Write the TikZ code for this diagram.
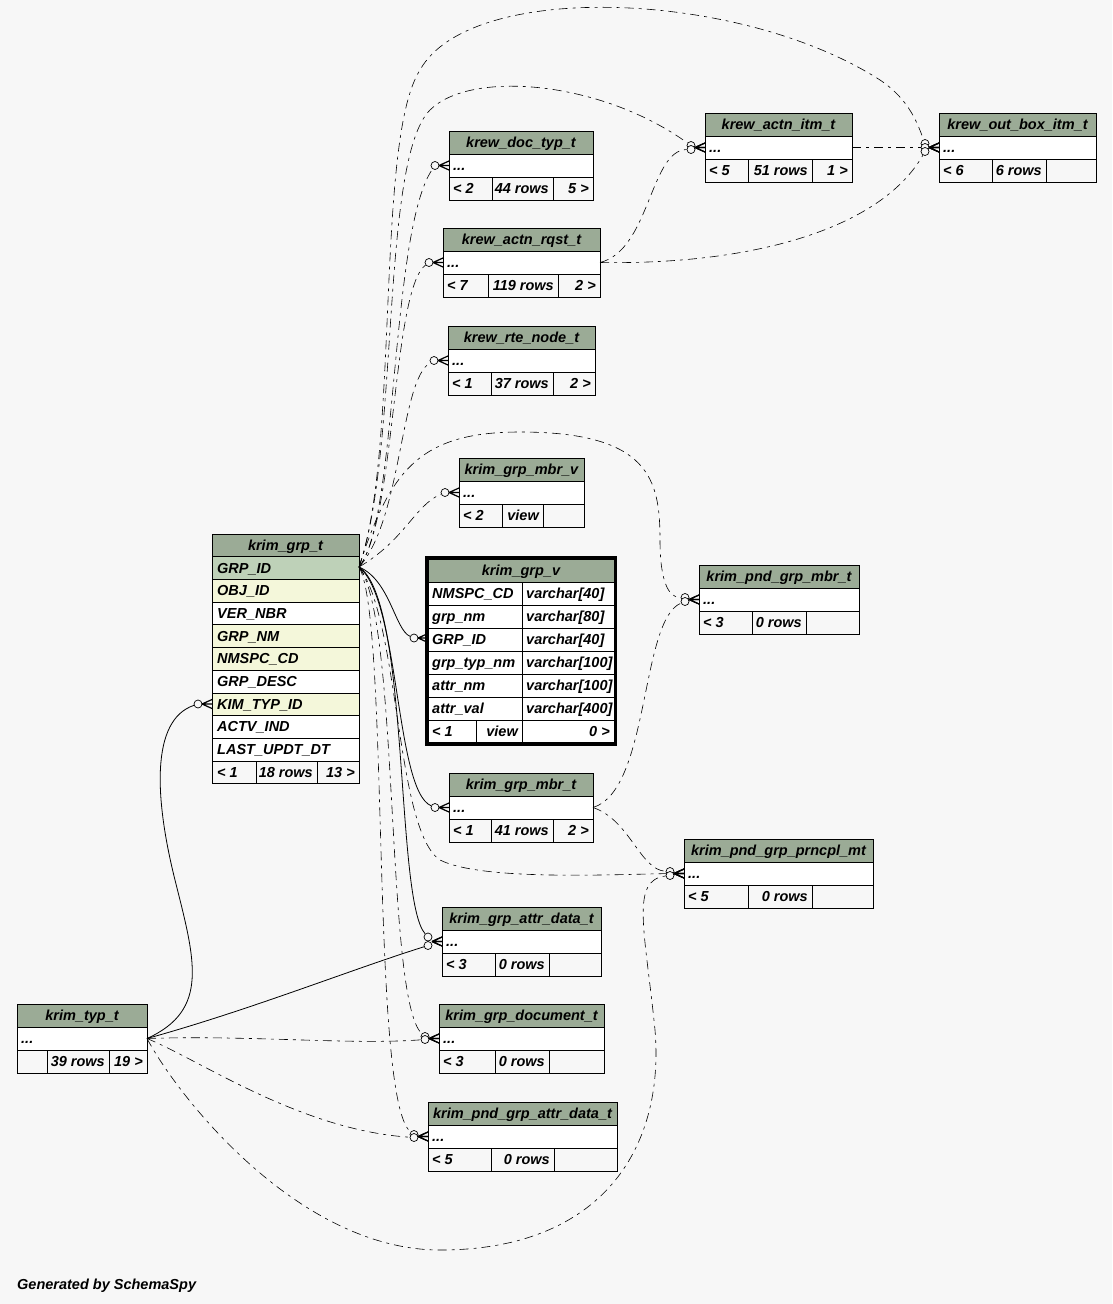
\documentclass[tikz,border=0pt]{standalone}
\usepackage{fontspec}
\setmainfont{Liberation Sans}
\definecolor{bgc}{HTML}{F7F7F7}
\definecolor{hdrc}{HTML}{9BAB96}
\definecolor{pkc}{HTML}{BED1B8}
\definecolor{fkc}{HTML}{F4F7DA}
\tikzset{
  tline/.style={line width=0.8pt},
  lt/.style={anchor=base west, inner sep=0pt},
  rt/.style={anchor=base east, inner sep=0pt},
  ct/.style={anchor=base, inner sep=0pt},
  circ/.style={circle, draw, fill=bgc, inner sep=0pt, minimum size=8pt, line width=0.7pt},
  foot/.style={line width=1.2pt},
  sol/.style={line width=0.8pt},
  dsh/.style={line width=0.6pt, dash pattern=on 9pt off 5pt on 3pt off 5pt},
}
\newcommand\tbl[9]{\def\tN{#1}\def\tL{#2}\def\tR{#3}\def\tT{#4}\def\tA{#5}\def\tB{#6}\def\tTitle{#7}\def\tFa{#8}\def\tFb{#9}\tblfin}
\newcommand\tblfin[1]{%
  \fill[hdrc] (\tL,\tT) rectangle (\tR,\tT+23);
  \fill[white] (\tL,\tT+23) rectangle (\tR,\tT+46);
  \draw[tline] (\tL,\tT) rectangle (\tR,\tT+69);
  \draw[tline] (\tL,\tT+23) -- (\tR,\tT+23) (\tL,\tT+46) -- (\tR,\tT+46)
     (\tA,\tT+46) -- (\tA,\tT+69) (\tB,\tT+46) -- (\tB,\tT+69);
  \node[ct] (\tN-title) at ({(\tL+\tR)/2},\tT+16.3) {\tTitle};
  \node[lt] (\tN-row) at (\tL+4,\tT+39.3) {...};
  \node[lt] (\tN-fa) at (\tL+4,\tT+62.3) {\tFa};
  \node[rt] (\tN-fb) at (\tB-4,\tT+62.3) {\tFb};
  \node[rt] (\tN-fc) at (\tR-4,\tT+62.3) {#1};
}
\newcommand\cf[4]{%
  \node[circ] (#1) at (#2-14,#3+#4) {};
  \draw[foot] (#2-10,#3) -- (#2,#3-4.5) (#2-10,#3) -- (#2,#3) (#2-10,#3) -- (#2,#3+4.5);
}
\begin{document}
\begin{tikzpicture}[x=1pt,y=-1pt,font=\fontsize{14.5}{16}\selectfont\bfseries\itshape]
\useasboundingbox[fill=bgc] (0,0) rectangle (1112,1304);

% ---------- krim_grp_t ----------
\fill[hdrc] (212,534) rectangle (359,556.7);
\foreach \i/\nm/\c in {1/GRP\_ID/pkc,2/OBJ\_ID/fkc,3/VER\_NBR/white,4/GRP\_NM/fkc,5/NMSPC\_CD/fkc,6/GRP\_DESC/white,7/KIM\_TYP\_ID/fkc,8/ACTV\_IND/white,9/LAST\_UPDT\_DT/white}{
  \fill[\c] (212,534+22.7*\i) rectangle (359,534+22.7*\i+22.7);
  \draw[tline] (212,534+22.7*\i) -- (359,534+22.7*\i);
  \node[lt] (g-\i) at (217,534+22.7*\i+16.3) {\nm};
}
\draw[tline] (212,534) rectangle (359,783.7);
\draw[tline] (212,761) -- (359,761) (256,761) -- (256,783.7) (317,761) -- (317,783.7);
\node[ct] (g-title) at (285.5,550.3) {krim\_grp\_t};
\node[lt] (g-fa) at (217,777.3) {< 1};
\node[rt] (g-fb) at (313,777.3) {18 rows};
\node[rt] (g-fc) at (355,777.3) {13 >};

% ---------- krim_grp_v ----------
\draw[line width=3pt] (426.5,557.5) rectangle (615.5,744.5);
\fill[hdrc] (428,559.5) rectangle (614,582.4);
\fill[white] (428,582.4) rectangle (614,742.8);
\foreach \i/\a/\b in {1/NMSPC\_CD/varchar[40],2/grp\_nm/varchar[80],3/GRP\_ID/varchar[40],4/grp\_typ\_nm/varchar[100],5/attr\_nm/varchar[100],6/attr\_val/varchar[400]}{
  \draw[tline] (428,559.5+22.9*\i) -- (614,559.5+22.9*\i);
  \node[lt] (v-\i) at (432,559.5+22.9*\i+16.3) {\a};
  \node[lt] (vt-\i) at (526,559.5+22.9*\i+16.3) {\b};
}
\draw[tline] (428,719.9) -- (614,719.9);
\draw[tline] (522,582.4) -- (522,742.8) (476,719.9) -- (476,742.8);
\draw[tline] (428,559.5) rectangle (614,742.8);
\node[ct] (v-title) at (521,575.8) {krim\_grp\_v};
\node[lt] (v-fa) at (432,736.2) {< 1};
\node[rt] (v-fb) at (518,736.2) {view};
\node[rt] (v-fc) at (610,736.2) {0 >};

% ---------- small tables ----------
\tbl{doc}{449}{593}{131}{492}{553}{krew\_doc\_typ\_t}{< 2}{44 rows}{5 >}
\tbl{rqst}{443}{600}{228}{488}{558}{krew\_actn\_rqst\_t}{< 7}{119 rows}{2 >}
\tbl{rte}{448}{595}{326}{491}{553}{krew\_rte\_node\_t}{< 1}{37 rows}{2 >}
\tbl{mbrv}{459}{584}{458}{502}{543}{krim\_grp\_mbr\_v}{< 2}{view}{}
\tbl{itm}{705}{852}{113}{748}{812}{krew\_actn\_itm\_t}{< 5}{51 rows}{1 >}
\tbl{box}{939}{1096}{113}{992}{1046}{krew\_out\_box\_itm\_t}{< 6}{6 rows}{}
\tbl{pmbr}{699}{859}{565}{752}{806}{krim\_pnd\_grp\_mbr\_t}{< 3}{0 rows}{}
\tbl{mbrt}{449}{593}{773}{491}{553}{krim\_grp\_mbr\_t}{< 1}{41 rows}{2 >}
\tbl{prn}{684}{873}{839}{748}{812}{krim\_pnd\_grp\_prncpl\_mt}{< 5}{0 rows}{}
\tbl{attr}{442}{601}{907}{495}{549}{krim\_grp\_attr\_data\_t}{< 3}{0 rows}{}
\tbl{gdoc}{439}{604}{1004}{495}{549}{krim\_grp\_document\_t}{< 3}{0 rows}{}
\tbl{pattr}{428}{617}{1102}{491}{554}{krim\_pnd\_grp\_attr\_data\_t}{< 5}{0 rows}{}
\tbl{typ}{17}{147}{1004}{47}{109}{krim\_typ\_t}{}{39 rows}{19 >}

% ---------- end marks ----------
\cf{o-doc}{449}{165.5}{0}
\cf{o-rqst}{443}{262.5}{0}
\cf{o-rte}{448}{360.5}{0}
\cf{o-mbrv}{459}{492.5}{0}
\cf{o-grpv}{428}{638}{0}
\cf{o-mbrt}{449}{807.5}{0}
\cf{o-attr1}{442}{941.5}{-4.5}
\cf{o-attr2}{442}{941.5}{4}
\cf{o-gdoc1}{439}{1038.5}{-2}
\cf{o-gdoc2}{439}{1038.5}{1}
\cf{o-pattr1}{428}{1136.5}{-2}
\cf{o-pattr2}{428}{1136.5}{1}
\cf{o-pmbr1}{699}{599.5}{-2}
\cf{o-pmbr2}{699}{599.5}{2}
\cf{o-prn1}{684}{873.5}{0}
\cf{o-prn2}{684}{873.5}{-2}
\cf{o-prn3}{684}{873.5}{2}
\cf{o-itm1}{705}{147.5}{-2}
\cf{o-itm2}{705}{147.5}{2}
\cf{o-box1}{939}{147.5}{-4}
\cf{o-box2}{939}{147.5}{0}
\cf{o-box3}{939}{147.5}{4}
\cf{o-kim}{212}{704}{0}

% ---------- start points ----------
\coordinate (gpk) at (359,567);
\coordinate (tpk) at (147,1038.5);
\coordinate (rpk) at (600,262.5);
\coordinate (ipk) at (852,147.5);
\coordinate (mpk) at (593,807.5);

% ---------- connectors from krim_grp_t ----------
\draw[dsh] (gpk) .. controls (398,520) and (390,230) .. (o-doc);
\draw[dsh] (gpk) .. controls (396,520) and (392,290) .. (o-rqst);
\draw[dsh] (gpk) .. controls (402,520) and (400,380) .. (o-rte);
\draw[dsh] (gpk) .. controls (405,540) and (415,505) .. (o-mbrv);
\draw[dsh] (gpk) .. controls (400,450) and (380,160) .. (430,110) .. controls (470,70) and (600,80) .. (o-itm1);
\draw[dsh] (gpk) .. controls (400,450) and (375,140) .. (420,70) .. controls (470,-20) and (740,-10) .. (880,80) .. controls (910,100) and (918,125) .. (o-box1);
\draw[dsh] (gpk) .. controls (390,470) and (420,432) .. (520,432) .. controls (650,432) and (660,480) .. (660,540) .. controls (660,580) and (668,598) .. (o-pmbr1);
\draw[dsh] (gpk) .. controls (400,620) and (395,830) .. (440,860) .. controls (480,880) and (600,875) .. (o-prn1);
\draw[sol] (gpk) .. controls (390,580) and (395,630) .. (o-grpv);
\draw[sol] (gpk) .. controls (400,600) and (395,790) .. (o-mbrt);
\draw[sol] (gpk) .. controls (410,600) and (395,900) .. (o-attr1);
\draw[dsh] (gpk) .. controls (400,620) and (385,1000) .. (o-gdoc1);
\draw[dsh] (gpk) .. controls (390,620) and (370,1100) .. (o-pattr1);

% ---------- connectors from krim_typ_t ----------
\draw[sol] (tpk) .. controls (210,1010) and (195,960) .. (175,880) .. controls (155,800) and (150,720) .. (o-kim);
\draw[sol] (tpk) .. controls (250,1010) and (350,970) .. (o-attr2);
\draw[dsh] (tpk) .. controls (250,1035) and (350,1045) .. (o-gdoc2);
\draw[dsh] (tpk) .. controls (200,1060) and (300,1130) .. (o-pattr2);
\draw[dsh] (tpk) .. controls (180,1100) and (300,1250) .. (440,1250) .. controls (600,1250) and (665,1150) .. (655,1030) .. controls (645,930) and (630,880) .. (o-prn3);

% ---------- other connectors ----------
\draw[dsh] (rpk) .. controls (750,265) and (880,230) .. (o-box3);
\draw[dsh] (rpk) .. controls (650,250) and (650,150) .. (o-itm2);
\draw[dsh] (ipk) -- (o-box2);
\draw[dsh] (mpk) .. controls (650,790) and (640,620) .. (o-pmbr2);
\draw[dsh] (mpk) .. controls (630,820) and (640,870) .. (o-prn2);

\node[lt] (gen) at (17,1289) {Generated by SchemaSpy};
\end{tikzpicture}
\end{document}
